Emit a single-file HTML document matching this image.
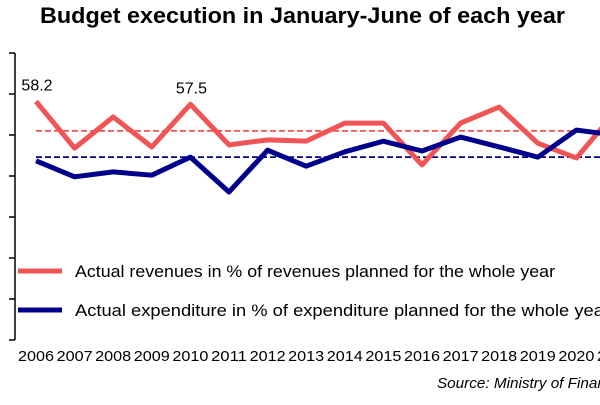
<!DOCTYPE html>
<html><head><meta charset="utf-8"><style>
body{margin:0;width:600px;height:400px;overflow:hidden;background:#fff;font-family:"Liberation Sans",sans-serif}
</style></head><body>
<svg id="c" width="600" height="400">
<text x="40" y="23" font-size="22" font-weight="bold" textLength="525" lengthAdjust="spacingAndGlyphs">Budget execution in January-June of each year</text>
<line x1="15" y1="53" x2="15" y2="340" stroke="#000" stroke-width="1.5"/>
<g id="ticks"></g><g id="xl"></g><g id="marks"></g>
<line x1="18" y1="271" x2="62" y2="271" stroke="#f05454" stroke-width="5"/>
<text x="75" y="277" font-size="17" textLength="480" lengthAdjust="spacingAndGlyphs">Actual revenues in % of revenues planned for the whole year</text>
<line x1="18" y1="310" x2="62" y2="310" stroke="#00008b" stroke-width="5"/>
<text x="75" y="316" font-size="17" textLength="535" lengthAdjust="spacingAndGlyphs">Actual expenditure in % of expenditure planned for the whole year</text>
<text x="437" y="388" font-size="15" font-style="italic" textLength="185" lengthAdjust="spacingAndGlyphs">Source: Ministry of Finance</text>
</svg>
<script>
const years=["2006","2007","2008","2009","2010","2011","2012","2013","2014","2015","2016","2017","2018","2019","2020","2021"];
const revenues=[58.2,46.8,54.4,47.1,57.5,47.6,48.8,48.5,52.9,52.9,42.7,52.9,56.8,48.0,44.4,55.5];
const expenditure=[43.7,39.8,41.0,40.2,44.6,36.1,46.3,42.4,45.9,48.5,46.1,49.5,47.1,44.6,51.2,50.0];
const revAvg=[51.0];
const expAvg=[44.6];
const yTicks=[0,10,20,30,40,50,60,70];
const labelled=[0,4];
const NS="http://www.w3.org/2000/svg";
const X=i=>36+i*38.6, Y=v=>340-v*4.1;
function mk(t,a,p){const e=document.createElementNS(NS,t);for(const k in a)e.setAttribute(k,a[k]);document.getElementById(p).appendChild(e);return e;}
yTicks.forEach(v=>{const e=mk("line",{x1:9,x2:15,y1:Y(v),y2:Y(v),stroke:"#000","stroke-width":1.5},"ticks");

});
years.forEach((y,i)=>{const t=mk("text",{x:X(i),y:361,"text-anchor":"middle","font-size":15,textLength:36,lengthAdjust:"spacingAndGlyphs"},"xl");t.textContent=y;

});
let a=mk("line",{x1:36,x2:600,y1:Y(revAvg[0]),y2:Y(revAvg[0]),stroke:"#f05454","stroke-width":1.8,"stroke-dasharray":"6,3"},"marks");


a=mk("line",{x1:36,x2:600,y1:Y(expAvg[0]),y2:Y(expAvg[0]),stroke:"#00008b","stroke-width":1.8,"stroke-dasharray":"6,3"},"marks");


let p=mk("polyline",{points:revenues.map((v,i)=>X(i)+","+Y(v)).join(" "),fill:"none",stroke:"#f05454","stroke-width":5,"stroke-linejoin":"round"},"marks");


p=mk("polyline",{points:expenditure.map((v,i)=>X(i)+","+Y(v)).join(" "),fill:"none",stroke:"#00008b","stroke-width":5,"stroke-linejoin":"round"},"marks");


labelled.forEach(i=>{const t=mk("text",{x:X(i)+1,y:Y(revenues[i])-11,"text-anchor":"middle","font-size":16},"marks");t.textContent=revenues[i];

});
</script>
</body></html>
